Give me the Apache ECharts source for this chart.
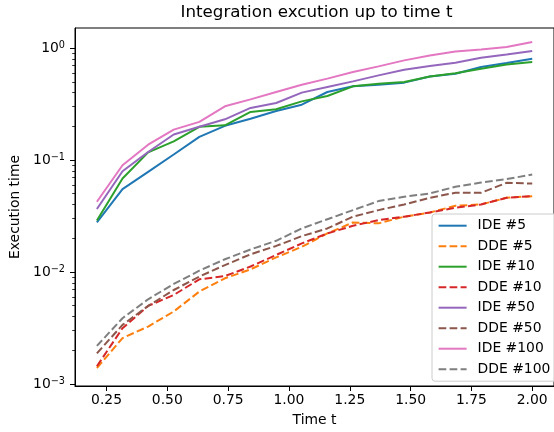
<!DOCTYPE html>
<html>
<head>
<meta charset="utf-8">
<script src="https://cdn.jsdelivr.net/npm/echarts@6/dist/echarts.min.js"></script>
<style>
html,body{margin:0;padding:0;background:#fff;}
#chart{width:554px;height:432px;}
</style>
</head>
<body>
<div id="chart"></div>
<script>
// ---- data ----
const t = [0.2105, 0.3158, 0.4211, 0.5263, 0.6316, 0.7368, 0.8421, 0.9474, 1.0526,
           1.1579, 1.2632, 1.3684, 1.4737, 1.5789, 1.6842, 1.7895, 1.8947, 2.0];
const seriesNames = ['IDE #5', 'DDE #5', 'IDE #10', 'DDE #10', 'IDE #50', 'DDE #50', 'IDE #100', 'DDE #100'];
const ide5 = [0.0278, 0.0549, 0.0785, 0.112, 0.161, 0.202, 0.234, 0.274, 0.312,
              0.405, 0.455, 0.471, 0.491, 0.558, 0.590, 0.677, 0.735, 0.803];
const dde5 = [0.00139, 0.00257, 0.00326, 0.00444, 0.00669, 0.00879, 0.01057, 0.0135, 0.0168,
              0.0221, 0.0277, 0.0272, 0.0312, 0.0340, 0.0390, 0.0401, 0.0460, 0.0476];
const ide10 = [0.0289, 0.0684, 0.117, 0.147, 0.198, 0.204, 0.269, 0.284, 0.334,
               0.373, 0.455, 0.481, 0.497, 0.558, 0.595, 0.654, 0.714, 0.750];
const dde10 = [0.00144, 0.00315, 0.00498, 0.00624, 0.00861, 0.0092, 0.0112, 0.0142, 0.0180,
               0.0221, 0.0259, 0.0291, 0.0312, 0.0340, 0.0375, 0.0401, 0.0460, 0.0476];
const ide50 = [0.0365, 0.0795, 0.118, 0.169, 0.198, 0.231, 0.292, 0.323, 0.400,
               0.449, 0.504, 0.570, 0.641, 0.691, 0.740, 0.820, 0.877, 0.940];
const dde50 = [0.00188, 0.00337, 0.00498, 0.00691, 0.00910, 0.01154, 0.0144, 0.0171, 0.0209,
               0.0245, 0.0312, 0.0357, 0.0401, 0.0460, 0.0510, 0.0510, 0.0626, 0.0617];
const ide100 = [0.0424, 0.0899, 0.137, 0.187, 0.219, 0.302, 0.348, 0.405, 0.470,
                0.533, 0.611, 0.686, 0.776, 0.859, 0.933, 0.972, 1.02, 1.13];
const dde100 = [0.00219, 0.00387, 0.00571, 0.00782, 0.01028, 0.0130, 0.0159, 0.0190, 0.0245,
                0.0296, 0.0357, 0.0430, 0.0470, 0.0503, 0.0577, 0.0630, 0.0675, 0.0743];
const xTicks = [0.25, 0.5, 0.75, 1.0, 1.25, 1.5, 1.75, 2.0];
const yMajorTicks = [0.001, 0.01, 0.1, 1];
const yMinorTicks = [0.002, 0.003, 0.004, 0.005, 0.006, 0.007, 0.008, 0.009,
                     0.02, 0.03, 0.04, 0.05, 0.06, 0.07, 0.08, 0.09,
                     0.2, 0.3, 0.4, 0.5, 0.6, 0.7, 0.8, 0.9];

// ---- styling ----
const FONT = 'DejaVu Sans';
const colors = ['#1f77b4', '#ff7f0e', '#2ca02c', '#d62728', '#9467bd', '#8c564b', '#e377c2', '#7f7f7f'];
const allData = [ide5, dde5, ide10, dde10, ide50, dde50, ide100, dde100];
const DASH = [7.7, 3.3];

const series = allData.map((vals, i) => ({
  name: seriesNames[i],
  type: 'line',
  xAxisIndex: 0,
  yAxisIndex: 0,
  data: t.map((x, k) => [x, vals[k]]),
  showSymbol: false,
  symbol: 'none',
  color: colors[i],
  lineStyle: { color: colors[i], width: 2, type: (i % 2 === 1) ? DASH : 'solid', cap: 'butt' },
  emphasis: { disabled: true },
  silent: true
}));

const chart = echarts.init(document.getElementById('chart'), null, { renderer: 'canvas' });
chart.setOption({
  animation: false,
  backgroundColor: '#fff',
  title: {
    text: 'Integration excution up to time t',
    left: 316.5,
    top: 4,
    padding: 0,
    textAlign: 'center',
    textStyle: { fontFamily: FONT, fontSize: 16.7, fontWeight: 'normal', color: '#000' }
  },
  grid: {
    left: 75, top: 28, width: 483, height: 360,
    show: true, borderColor: '#000', borderWidth: 1, backgroundColor: '#fff'
  },
  legend: {
    orient: 'vertical',
    left: 432, top: 214,
    itemWidth: 28, itemHeight: 14, itemGap: 6.5,
    padding: [4.7, 7, 5, 5.6],
    backgroundColor: 'rgba(255,255,255,0.8)',
    borderColor: '#cccccc', borderWidth: 1, borderRadius: 3,
    selectedMode: false,
    itemStyle: { opacity: 0, borderWidth: 0 },
    textStyle: { fontFamily: FONT, fontSize: 13.9, color: '#000', lineHeight: 14, padding: [0, 0, 0, 6] },
    data: seriesNames
  },
  xAxis: {
    type: 'value',
    min: 0.1205, max: 2.0895,
    axisLine: { show: true, onZero: false, lineStyle: { color: '#000', width: 1 } },
    axisTick: { show: true, length: 5, customValues: xTicks, lineStyle: { color: '#000', width: 1 } },
    axisLabel: {
      customValues: xTicks, margin: 7,
      formatter: v => v.toFixed(2),
      fontFamily: FONT, fontSize: 13.9, color: '#000'
    },
    splitLine: { show: false },
    name: 'Time t', nameLocation: 'middle', nameGap: 27,
    nameTextStyle: { fontFamily: FONT, fontSize: 13.9, color: '#000' }
  },
  yAxis: [{
    type: 'log', logBase: 10,
    min: 0.00096, max: 1.51,
    position: 'left',
    axisLine: { show: true, onZero: false, lineStyle: { color: '#000', width: 1 } },
    axisTick: { show: true, length: 5, customValues: yMajorTicks, lineStyle: { color: '#000', width: 1 } },
    axisLabel: {
      customValues: yMajorTicks, margin: 10,
      formatter: v => {
        const e = Math.round(Math.log10(v));
        return '{b|10}{s|' + String(e).replace('-', '\u2212') + '}';
      },
      rich: {
        b: { fontFamily: FONT, fontSize: 13.9, color: '#000', lineHeight: 16 },
        s: { fontFamily: FONT, fontSize: 9.7, color: '#000', lineHeight: 10, verticalAlign: 'top' }
      }
    },
    splitLine: { show: false },
    minorTick: { show: false },
    name: 'Execution time', nameLocation: 'middle', nameGap: 44, nameRotate: 90,
    nameTextStyle: { fontFamily: FONT, fontSize: 13.9, color: '#000' }
  }, {
    type: 'log', logBase: 10,
    min: 0.00096, max: 1.51,
    position: 'left',
    axisLine: { show: false },
    axisTick: { show: true, length: 2.8, customValues: yMinorTicks, lineStyle: { color: '#000', width: 0.8 } },
    axisLabel: { show: false },
    splitLine: { show: false }
  }],
  series: series
});
</script>
</body>
</html>
